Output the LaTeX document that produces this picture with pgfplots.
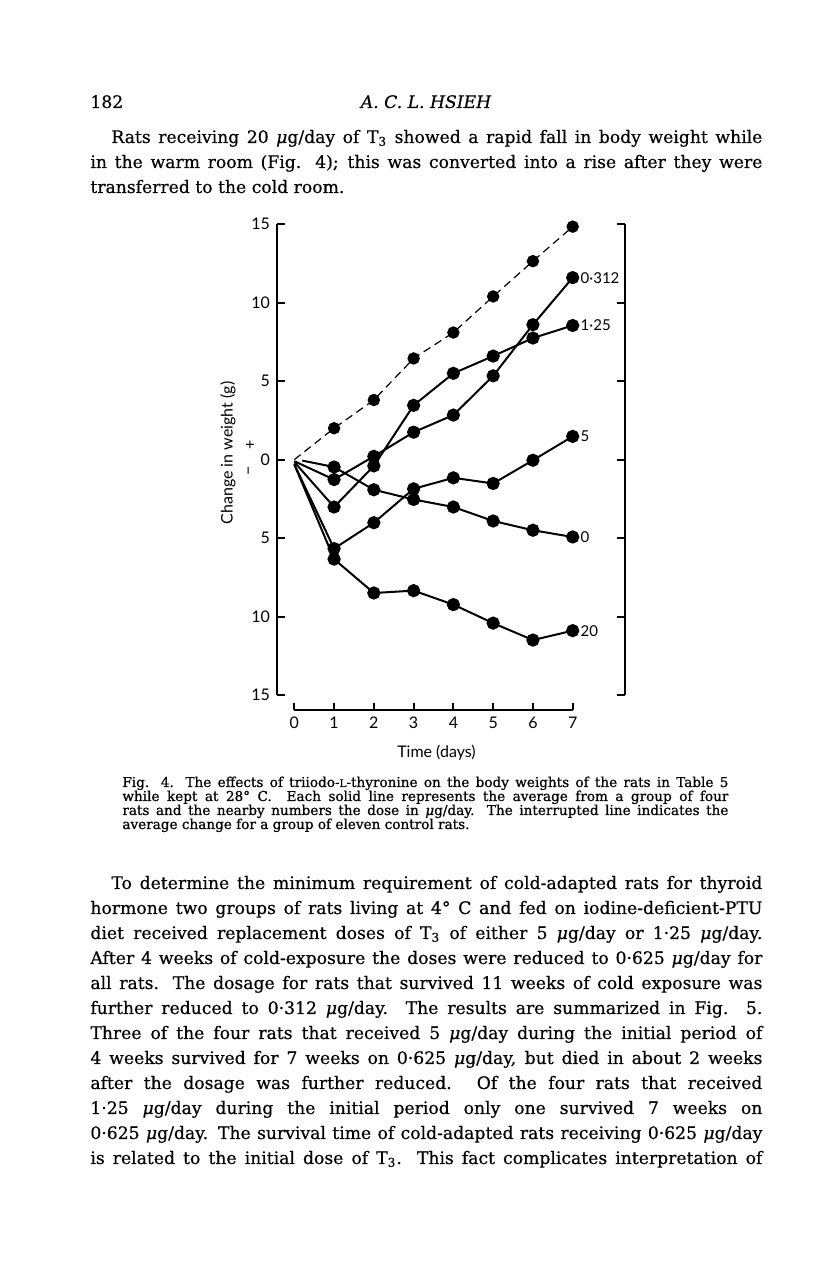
\documentclass[border=0pt]{standalone}
\usepackage{fontspec}
\setmainfont{DejaVu Serif}[FakeBold=0.5]
\newfontfamily\capfont{DejaVu Serif}[FakeBold=0.8]
\newfontfamily\chartfont{Lato}
\usepackage{pgfplots}
\pgfplotsset{compat=1.18}
\tikzset{lbl/.style={anchor=west, inner sep=0.5pt, xshift=3pt, font=\chartfont\fontsize{7.5}{9}\selectfont}}
\newcommand\jl[4]{\node[anchor=base west,inner sep=0pt] at (#1pt,#2pt) {\makebox[#3pt][s]{#4}};}
\newcommand\nl[3]{\node[anchor=base west,inner sep=0pt] at (#1pt,#2pt) {#3};}
\newcommand\mug{{\itshape μ}g}
\begin{document}
\begin{tikzpicture}
\path[use as bounding box] (0,0) rectangle (408pt,636pt);
% header and first paragraph
\begin{scope}[font=\fontsize{8.6}{10}\selectfont]
\nl{45}{582}{182}
\node[anchor=base,inner sep=0pt] at (213pt,582pt) {\itshape A. C. L. HSIEH};
\jl{55.5}{564.5}{325.5}{Rats receiving 20 \mug/day of T\textsubscript{3} showed a rapid fall in body weight while}
\jl{45}{552}{336}{in the warm room (Fig. 4); this was converted into a rise after they were}
\nl{45}{539.5}{transferred to the cold room.}
\end{scope}
% caption
\begin{scope}[font=\capfont\fontsize{6.8}{8}\selectfont]
\jl{61}{242.5}{303}{Fig. 4. The effects of triiodo-{\fontsize{5.2}{6}\selectfont L}-thyronine on the body weights of the rats in Table 5}
\jl{61}{235.5}{303}{while kept at 28° C. \ Each solid line represents the average from a group of four}
\jl{61}{228.5}{303}{rats and the nearby numbers the dose in \mug/day. The interrupted line indicates the}
\nl{61}{221.5}{average change for a group of eleven control rats.}
\end{scope}
% second paragraph
\begin{scope}[font=\fontsize{8.6}{10}\selectfont]
\jl{55.5}{191.5}{325.5}{To determine the minimum requirement of cold-adapted rats for thyroid}
\jl{45}{179}{336}{hormone two groups of rats living at 4° C and fed on iodine-deficient-PTU}
\jl{45}{166.5}{336}{diet received replacement doses of T\textsubscript{3} of either 5 \mug/day or 1·25 \mug/day.}
\jl{45}{154}{336}{After 4 weeks of cold-exposure the doses were reduced to 0·625 \mug/day for}
\jl{45}{141.5}{336}{all rats. The dosage for rats that survived 11 weeks of cold exposure was}
\jl{45}{129}{336}{further reduced to 0·312 \mug/day. The results are summarized in Fig. 5.}
\jl{45}{116.5}{336}{Three of the four rats that received 5 \mug/day during the initial period of}
\jl{45}{104}{336}{4 weeks survived for 7 weeks on 0·625 \mug/day, but died in about 2 weeks}
\jl{45}{91.5}{336}{after the dosage was further reduced. Of the four rats that received}
\jl{45}{79}{336}{1·25 \mug/day during the initial period only one survived 7 weeks on}
\jl{45}{66.5}{336}{0·625 \mug/day. The survival time of cold-adapted rats receiving 0·625 \mug/day}
\jl{45}{54}{336}{is related to the initial dose of T\textsubscript{3}. This fact complicates interpretation of}
\end{scope}
% y label and sign marks
\node[rotate=90,font=\chartfont\fontsize{8}{9}\selectfont] at (114pt,409.5pt) {Change in weight (g)};
\node[rotate=90,font=\chartfont\fontsize{8}{9}\selectfont] at (125.35pt,413.5pt) {+};
\node[rotate=90,font=\chartfont\fontsize{8}{9}\selectfont] at (125.35pt,400.5pt) {−};
% main axis
\begin{axis}[
  at={(138.5pt,288.5pt)}, anchor=south west,
  x=19.886pt, y=7.845pt,
  xmin=-0.435, xmax=8.315, ymin=-15, ymax=15,
  axis x line=none, axis y line=box,
  xtick=\empty,
  ytick={-15,-10,-5,0,5,10,15},
  yticklabels={15,10,5,0,5,10,15},
  yticklabel pos=left,
  tick align=inside,
  major tick length=4pt,
  axis line style={line width=1pt},
  every tick/.style={line width=1pt, black},
  ticklabel style={font=\chartfont\fontsize{8}{9}\selectfont},
  /pgf/number format/assume math mode=true,
  clip=false,
  ser/.style={black, solid, line width=1pt, mark=*, mark size=2.8pt, mark indices={2,3,4,5,6,7,8}, mark options={solid, fill=black}},
]
\addplot[ser, line width=0.6pt, dash pattern=on 4pt off 2.5pt] coordinates {(0,0)(1,2.0)(2,3.8)(3,6.45)(4,8.1)(5,10.4)(6,12.65)(7,14.85)};
\addplot[ser] coordinates {(0,-0.1)(1,-1.27)(2,0.21)(3,1.75)(4,2.84)(5,5.34)(6,8.6)(7,11.6)} node[lbl,pos=1] {0·312};
\addplot[ser] coordinates {(0,-0.15)(1,-3.02)(2,-0.4)(3,3.46)(4,5.5)(5,6.6)(6,7.75)(7,8.55)} node[lbl,pos=1] {1·25};
\addplot[ser] coordinates {(0,-0.3)(1,-5.67)(2,-4.02)(3,-1.86)(4,-1.16)(5,-1.52)(6,-0.04)(7,1.48)} node[lbl,pos=1] {5};
\addplot[ser] coordinates {(0.2,-0.06)(1,-0.47)(2,-1.92)(3,-2.54)(4,-3.02)(5,-3.91)(6,-4.5)(7,-4.93)} node[lbl,pos=1] {0};
\addplot[ser] coordinates {(0,-0.3)(1,-6.34)(2,-8.5)(3,-8.35)(4,-9.24)(5,-10.42)(6,-11.5)(7,-10.9)} node[lbl,pos=1] {20};
\end{axis}
% x axis
\begin{axis}[
  at={(147.15pt,281pt)}, anchor=south west,
  x=19.886pt, y=1pt, xmin=0, xmax=7, ymin=0, ymax=1,
  axis x line*=bottom, axis y line=none,
  xtick={0,1,2,3,4,5,6,7}, xticklabels={0,1,2,3,4,5,6,7},
  ytick=\empty,
  tick align=inside, major tick length=3.5pt,
  axis line style={line width=1pt},
  every tick/.style={line width=1pt, black},
  ticklabel style={font=\chartfont\fontsize{8}{9}\selectfont},
  /pgf/number format/assume math mode=true,
  xlabel={Time (days)},
  xlabel style={at={(axis description cs:0.5,0)}, anchor=center, yshift=-21.5pt, xshift=1.5pt, font=\chartfont\fontsize{8}{9}\selectfont},
]
\addplot[draw=none] coordinates {(0,0)(7,1)};
\end{axis}
\end{tikzpicture}
\end{document}
